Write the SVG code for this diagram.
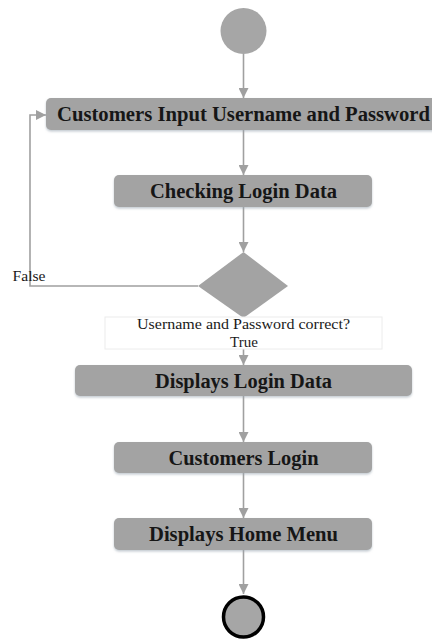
<svg xmlns="http://www.w3.org/2000/svg" width="432" height="639" viewBox="0 0 432 639">
<style>
.box{fill:#a3a3a3;filter:url(#sh)}
.lbl{font-family:"Liberation Serif","Times New Roman",serif;font-weight:bold;font-size:20px;fill:#161616;text-anchor:middle}
.small{font-family:"Liberation Serif","Times New Roman",serif;font-size:15px;fill:#1a1a1a}
.edge{fill:none;stroke:#a0a0a0;stroke-width:1.6;marker-end:url(#ah)}
</style>
<defs>
<marker id="ah" markerWidth="11" markerHeight="10" refX="10" refY="5" orient="auto" markerUnits="userSpaceOnUse">
<path d="M0,0 L10,5 L0,10 Z" fill="#a0a0a0"/>
</marker>
<filter id="sh" x="-5%" y="-20%" width="110%" height="150%">
<feDropShadow dx="0" dy="1.5" stdDeviation="1.2" flood-color="#9aa6b0" flood-opacity="0.6"/>
</filter>
</defs>
<rect width="432" height="639" fill="#ffffff"/>
<g id="connectors">
<path class="edge" d="M243.5,54 V98"/>
<path class="edge" d="M243.5,130 V175"/>
<path class="edge" d="M243.5,207 V252"/>
<path class="edge" d="M198,286 H30 V115 H46"/>
<path class="edge" d="M243.5,349 V365"/>
<path class="edge" d="M243.5,396 V442"/>
<path class="edge" d="M243.5,473 V518"/>
<path class="edge" d="M243.5,550 V594"/>
</g>
<g id="start"><circle cx="243.5" cy="31" r="23" fill="#a6a6a6"/></g>
<g id="input">
<rect class="box" x="46" y="98" width="395" height="32" rx="5"/>
<text class="lbl" x="243.5" y="121" textLength="373" lengthAdjust="spacingAndGlyphs">Customers Input Username and Password</text>
</g>
<g id="checking">
<rect class="box" x="114" y="175" width="258" height="32" rx="5"/>
<text class="lbl" x="243.5" y="198" textLength="187" lengthAdjust="spacingAndGlyphs">Checking Login Data</text>
</g>
<g id="decision">
<path d="M243.5,252 L288,286 L243.5,318 L198,286 Z" fill="#a3a3a3"/>
<rect x="105" y="317" width="277" height="32" fill="#ffffff" stroke="#ececec" stroke-width="1"/>
<text class="small" x="243.5" y="329" text-anchor="middle" textLength="213" lengthAdjust="spacingAndGlyphs">Username and Password correct?</text>
<text class="small" x="244" y="347" text-anchor="middle" font-size="14">True</text>
<text class="small" x="12.5" y="281" font-size="14" textLength="33" lengthAdjust="spacingAndGlyphs">False</text>
</g>
<g id="displaysLogin">
<rect class="box" x="75" y="365" width="337" height="31" rx="5"/>
<text class="lbl" x="243.5" y="387.5" textLength="177" lengthAdjust="spacingAndGlyphs">Displays Login Data</text>
</g>
<g id="customersLogin">
<rect class="box" x="114" y="442" width="258" height="31" rx="5"/>
<text class="lbl" x="243.5" y="464.5" textLength="150" lengthAdjust="spacingAndGlyphs">Customers Login</text>
</g>
<g id="homeMenu">
<rect class="box" x="114" y="518" width="258" height="32" rx="5"/>
<text class="lbl" x="243.5" y="541" textLength="189" lengthAdjust="spacingAndGlyphs">Displays Home Menu</text>
</g>
<g id="end"><circle cx="243.5" cy="617" r="20" fill="#a6a6a6" stroke="#000000" stroke-width="3.5"/></g>
</svg>
